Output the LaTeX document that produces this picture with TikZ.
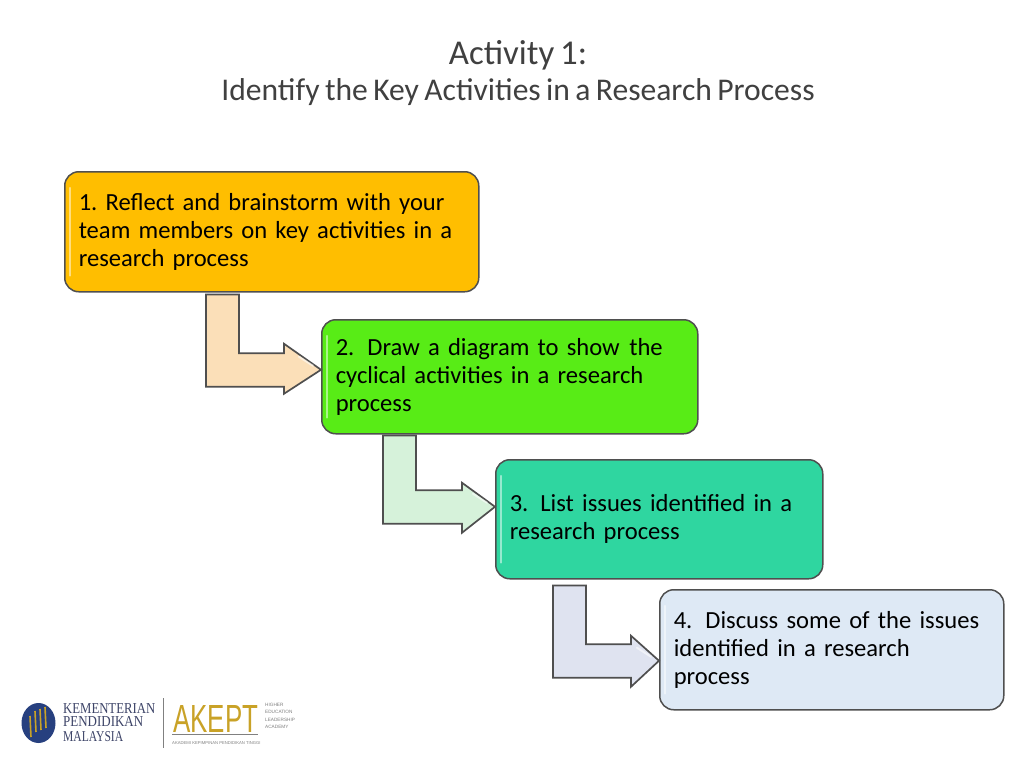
\documentclass[tikz,border=0pt]{standalone}
\usepackage{fontspec}
\setmainfont[WordSpace=0.75]{Carlito}
\newfontfamily\logoserif{Liberation Serif}
\newfontfamily\logosans{Liberation Sans}
\usetikzlibrary{calc}
\definecolor{edgegray}{HTML}{4F4F4F}
\definecolor{boxa}{HTML}{FFBE00}
\definecolor{boxb}{HTML}{58EC16}
\definecolor{boxc}{HTML}{2FD6A0}
\definecolor{boxd}{HTML}{DEE9F5}
\definecolor{arra}{HTML}{FBDFB8}
\definecolor{arrb}{HTML}{D6F2DA}
\definecolor{arrc}{HTML}{DFE3F0}
\definecolor{titlegray}{HTML}{404040}
\definecolor{navy}{HTML}{27407F}
\definecolor{logotext}{HTML}{3D4468}
\definecolor{gold}{HTML}{C9A227}
\definecolor{logogray}{HTML}{808080}
\tikzset{
  stepbox/.style={draw=edgegray,line width=1.5pt,rounded corners=14pt,anchor=north west,
    inner xsep=14pt,inner ysep=0pt,align=left,text=black,
    font=\fontsize{24.6}{28}\selectfont},
  bentarrow/.style={draw=edgegray,line width=1.7pt,line join=miter},
  glint/.style={line width=2.2pt,line cap=round,white,opacity=.5},
  headglint/.style={line width=2pt,line cap=round,white,opacity=.55},
  titletext/.style={text=titlegray,anchor=center,inner sep=0pt},
  logoword/.style={anchor=west,inner sep=0pt,text=logotext,font=\logoserif\fontsize{14}{15}\selectfont},
}
% from node, to node, left offset, gap, tip y offset, neck, head top, head bottom, colour
\newcommand{\elbow}[9]{%
  \coordinate (s) at ($(#1.south west)+(#3,#4)$);
  \coordinate (t) at ($(#2.west)+(0,#5)$);
  \draw[bentarrow,fill=#9] (s) -- ++(33,0) |- ($(t)+(-#6,-16.5)$) -- ($(t)+(-#6,-#7)$)
    -- (t) -- ($(t)+(-#6,#8)$) -- ($(t)+(-#6,17)$) -| cycle;
  \draw[headglint] ($(t)+(-8,-4)$) -- ($(t)+(-22,-13)$);
}
\newcommand{\glints}[1]{%
  \draw[glint] ($(#1.north west)+(6,17)$) -- ($(#1.south west)+(6,-17)$);
}
\begin{document}
\frenchspacing
\begin{tikzpicture}[x=1pt,y=-1pt]
\useasboundingbox (0,0) rectangle (1024,768);
\fill[white] (0,0) rectangle (1024,768);

\node[titletext,font=\fontsize{34.8}{38}\selectfont] (title1) at (518,55) {Activity 1:};
\node[titletext,font=\fontsize{31.6}{34}\selectfont] (title2) at (518,92) {Identify the Key Activities in a Research Process};

\node[stepbox,fill=boxa,minimum width=414pt,minimum height=120pt,text width=386pt] (b1) at (64,171)
  {1. Reflect and brainstorm with your\\team members on key activities in a\\research process};
\node[stepbox,fill=boxb,minimum width=376pt,minimum height=114pt,text width=348pt] (b2) at (321,319)
  {2.\hspace{13pt}Draw a diagram to show\hspace{9.5pt}the\\cyclical activities in a research\\process};
\node[stepbox,fill=boxc,minimum width=327pt,minimum height=119pt,text width=299pt] (b3) at (495,459)
  {3.\hspace{12pt}List issues identified in a\\research process};
\node[stepbox,fill=boxd,minimum width=344pt,minimum height=120pt,text width=316pt] (b4) at (659,589)
  {4.\hspace{13pt}Discuss some of the issues\\identified in a research\\process};

\glints{b1}\glints{b2}\glints{b3}\glints{b4}

\elbow{b1}{b2}{142}{2}{-7}{37}{26}{24}{arra}
\elbow{b2}{b3}{62}{1}{-12.5}{33}{24}{26}{arrb}
\elbow{b3}{b4}{58}{6}{11}{28}{25}{26}{arrc}

% logo
\fill[navy] (38.5,723) ellipse [x radius=17, y radius=20];
\foreach \xa/\ya/\yb in {30/716/737, 35/711/732, 40/709/730, 45/707/728}{
  \draw[gold,line width=1.6pt] (\xa,\ya) -- (\xa+1,\yb);
}
\node[logoword] (lk) at (63,708) {\resizebox{92pt}{10pt}{KEMENTERIAN}};
\node[logoword] (lp) at (63,722) {\resizebox{80pt}{10pt}{PENDIDIKAN}};
\node[logoword] (lm) at (63,737) {\resizebox{60pt}{10pt}{MALAYSIA}};
\draw[logogray,line width=.8pt] (163,698) -- (163,748);
\node[anchor=west,inner sep=0pt,text=gold,font=\logosans\fontsize{35}{36}\selectfont] (la) at (173,719) {\resizebox{85pt}{27pt}{AKEPT}};
\draw[logogray,line width=.6pt] (172,734) -- (258,734);
\node[anchor=west,inner sep=0pt,text=logogray,font=\logosans\fontsize{4.2}{5}\selectfont] (ls) at (172,743) {AKADEMI KEPIMPINAN PENDIDIKAN TINGGI};
\node[anchor=north west,inner sep=0pt,align=left,text=logogray,font=\logosans\fontsize{4.7}{7.5}\selectfont] (lh) at (265,703) {HIGHER\\EDUCATION\\LEADERSHIP\\ACADEMY};
\end{tikzpicture}
\end{document}
